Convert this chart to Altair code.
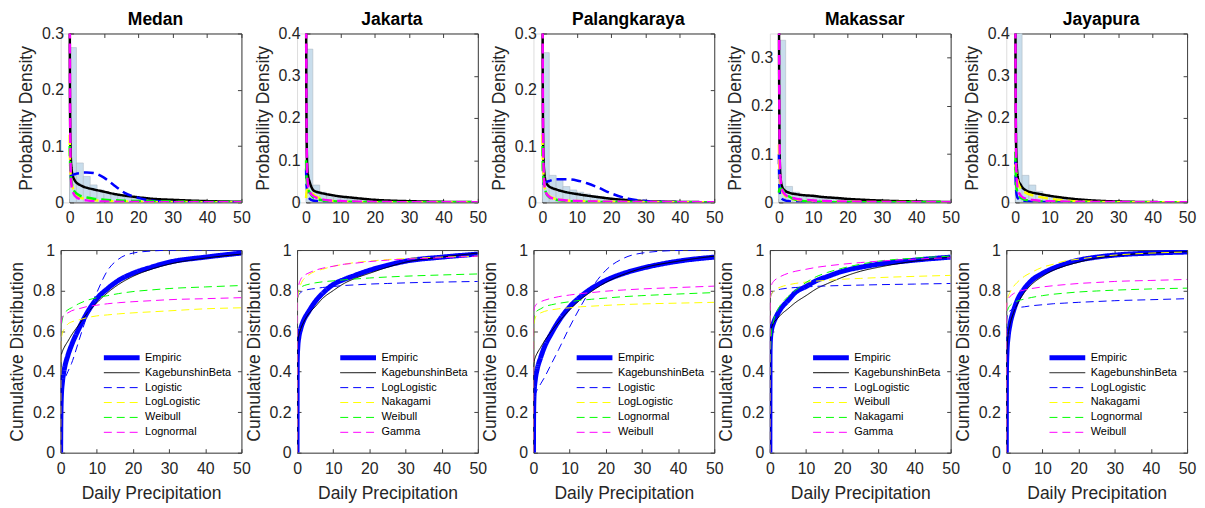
import altair as alt
import pandas as pd

CITIES = ["Medan", "Jakarta", "Palangkaraya", "Makassar", "Jayapura"]
FIT_NAMES = [
    ["Logistic", "LogLogistic", "Weibull", "Lognormal"],
    ["LogLogistic", "Nakagami", "Weibull", "Gamma"],
    ["Logistic", "LogLogistic", "Lognormal", "Weibull"],
    ["LogLogistic", "Weibull", "Nakagami", "Gamma"],
    ["LogLogistic", "Nakagami", "Lognormal", "Weibull"],
]
PDF_YMAX = [0.3, 0.4, 0.3, 0.35, 0.4]
PDF_YTICKS = [[0, 0.1, 0.2, 0.3], [0, 0.1, 0.2, 0.3, 0.4], [0, 0.1, 0.2, 0.3],
              [0, 0.1, 0.2, 0.3], [0, 0.1, 0.2, 0.3, 0.4]]
X_TICKS = [0, 10, 20, 30, 40, 50]
CDF_YTICKS = [0, 0.2, 0.4, 0.6, 0.8, 1]

# ---------------- histograms (bin width 2, starting at 0) ----------------
BIN_WIDTH = 2
HIST_MEDAN = [0.275, 0.070, 0.046, 0.031, 0.022, 0.017, 0.013, 0.011, 0.009, 0.0075, 0.0065, 0.0055,
              0.0045, 0.004, 0.0035, 0.003, 0.0025, 0.002, 0.0018, 0.0015, 0.0013, 0.0011, 0.001, 0.0009, 0.0008]
HIST_JAKARTA = [0.363, 0.041, 0.024, 0.016, 0.012, 0.010, 0.008, 0.007, 0.006, 0.005, 0.0045, 0.004,
                0.0035, 0.003, 0.0025, 0.002, 0.0018, 0.0016, 0.0014, 0.0012, 0.001, 0.0009, 0.0008, 0.0007, 0.0006]
HIST_PALANGKARAYA = [0.266, 0.048, 0.042, 0.028, 0.022, 0.018, 0.015, 0.012, 0.010, 0.0085, 0.007, 0.006,
                     0.005, 0.0042, 0.0035, 0.003, 0.0025, 0.002, 0.0017, 0.0014, 0.0012, 0.001, 0.0009, 0.0008, 0.0007]
HIST_MAKASSAR = [0.336, 0.033, 0.021, 0.015, 0.012, 0.010, 0.009, 0.008, 0.007, 0.006, 0.0052, 0.0045,
                 0.004, 0.0035, 0.003, 0.0026, 0.0022, 0.0019, 0.0016, 0.0014, 0.0012, 0.001, 0.0009, 0.0008, 0.0007]
HIST_JAYAPURA = [0.41, 0.064, 0.041, 0.026, 0.019, 0.015, 0.012, 0.010, 0.008, 0.0065, 0.0055, 0.0045,
                 0.0037, 0.003, 0.0025, 0.002, 0.0017, 0.0014, 0.0012, 0.001, 0.0008, 0.0007, 0.0006, 0.0005, 0.0004]

# ---------------- fitted densities (KagebunshinBeta, then the 4 fits in legend order) ----------------
PDF_X = [0.02, 0.1, 0.3, 0.6, 1, 1.5, 2, 3, 4, 5, 7, 10, 13, 16, 20, 25, 30, 40, 50]

PDF_MEDAN_KB = [0.5, 0.2, 0.09, 0.058, 0.046, 0.039, 0.035, 0.031, 0.028, 0.026, 0.023, 0.019, 0.015, 0.012, 0.009, 0.006, 0.0045, 0.0022, 0.001]
PDF_MEDAN_F1 = [0.046, 0.046, 0.047, 0.048, 0.049, 0.050, 0.051, 0.052, 0.053, 0.053, 0.052, 0.044, 0.030, 0.017, 0.008, 0.0025, 0.0008, 0.0001, 0]
PDF_MEDAN_F2 = [0.12, 0.08, 0.05, 0.035, 0.025, 0.017, 0.013, 0.009, 0.007, 0.0055, 0.004, 0.0027, 0.002, 0.0015, 0.0011, 0.0008, 0.0006, 0.0004, 0.0003]
PDF_MEDAN_F3 = [0.1, 0.08, 0.05, 0.035, 0.025, 0.019, 0.016, 0.012, 0.010, 0.0085, 0.0065, 0.0048, 0.0037, 0.003, 0.0023, 0.0017, 0.0013, 0.0008, 0.0005]
PDF_MEDAN_F4 = [0.6, 0.25, 0.06, 0.028, 0.018, 0.012, 0.009, 0.006, 0.0045, 0.0035, 0.0022, 0.0014, 0.001, 0.0007, 0.0005, 0.0003, 0.0002, 0.0001, 0.0001]

PDF_JAKARTA_KB = [0.6, 0.25, 0.1, 0.063, 0.05, 0.038, 0.03, 0.025, 0.023, 0.021, 0.018, 0.014, 0.0115, 0.009, 0.006, 0.004, 0.0028, 0.0012, 0.0005]
PDF_JAKARTA_F1 = [0.08, 0.05, 0.03, 0.015, 0.009, 0.006, 0.0045, 0.003, 0.0022, 0.0018, 0.0012, 0.0008, 0.0006, 0.0005, 0.0004, 0.0003, 0.0002, 0.0001, 0.0001]
PDF_JAKARTA_F2 = [0.01, 0.02, 0.03, 0.03, 0.028, 0.024, 0.02, 0.014, 0.01, 0.007, 0.004, 0.002, 0.001, 0.0005, 0.0002, 0.0001, 0, 0, 0]
PDF_JAKARTA_F3 = [0.1, 0.07, 0.045, 0.032, 0.025, 0.018, 0.013, 0.008, 0.006, 0.0045, 0.003, 0.002, 0.0014, 0.001, 0.0008, 0.0006, 0.0004, 0.0003, 0.0002]
PDF_JAKARTA_F4 = [0.8, 0.3, 0.08, 0.04, 0.027, 0.02, 0.016, 0.011, 0.008, 0.0065, 0.0045, 0.003, 0.002, 0.0015, 0.001, 0.0006, 0.0004, 0.0002, 0.0001]

PDF_PALANGKARAYA_KB = [0.5, 0.2, 0.08, 0.05, 0.036, 0.031, 0.028, 0.025, 0.023, 0.021, 0.018, 0.0148, 0.012, 0.0095, 0.0065, 0.004, 0.0022, 0.0008, 0.0003]
PDF_PALANGKARAYA_F1 = [0.033, 0.033, 0.034, 0.035, 0.036, 0.037, 0.038, 0.040, 0.041, 0.041, 0.041, 0.039, 0.034, 0.027, 0.016, 0.0065, 0.0025, 0.0003, 0]
PDF_PALANGKARAYA_F2 = [0.12, 0.08, 0.05, 0.03, 0.02, 0.014, 0.011, 0.008, 0.006, 0.005, 0.0035, 0.0025, 0.0018, 0.0014, 0.001, 0.0008, 0.0006, 0.0004, 0.0003]
PDF_PALANGKARAYA_F3 = [0.1, 0.06, 0.042, 0.03, 0.018, 0.012, 0.009, 0.006, 0.0045, 0.0035, 0.0025, 0.0017, 0.0012, 0.0009, 0.0007, 0.0005, 0.0004, 0.0002, 0.0001]
PDF_PALANGKARAYA_F4 = [0.6, 0.25, 0.07, 0.03, 0.018, 0.013, 0.01, 0.007, 0.0055, 0.0045, 0.0033, 0.0024, 0.0018, 0.0014, 0.0011, 0.0008, 0.0006, 0.0004, 0.0003]

PDF_MAKASSAR_KB = [0.6, 0.25, 0.08, 0.045, 0.032, 0.026, 0.023, 0.02, 0.018, 0.017, 0.015, 0.0135, 0.011, 0.0095, 0.0072, 0.0052, 0.0037, 0.0018, 0.0008]
PDF_MAKASSAR_F1 = [0.1, 0.05, 0.02, 0.012, 0.007, 0.005, 0.0035, 0.0025, 0.0018, 0.0014, 0.001, 0.0007, 0.0005, 0.0004, 0.0003, 0.0002, 0.0002, 0.0001, 0.0001]
PDF_MAKASSAR_F2 = [0.12, 0.08, 0.05, 0.035, 0.024, 0.017, 0.013, 0.009, 0.007, 0.0055, 0.004, 0.003, 0.0022, 0.0017, 0.0013, 0.001, 0.0008, 0.0005, 0.0003]
PDF_MAKASSAR_F3 = [0.02, 0.025, 0.028, 0.028, 0.026, 0.022, 0.018, 0.012, 0.008, 0.0055, 0.003, 0.0012, 0.0005, 0.0002, 0.0001, 0, 0, 0, 0]
PDF_MAKASSAR_F4 = [0.8, 0.3, 0.08, 0.04, 0.025, 0.019, 0.015, 0.011, 0.009, 0.0075, 0.0055, 0.004, 0.003, 0.0022, 0.0016, 0.001, 0.0007, 0.0003, 0.0001]

PDF_JAYAPURA_KB = [0.8, 0.3, 0.12, 0.07, 0.05, 0.043, 0.036, 0.029, 0.025, 0.023, 0.02, 0.0156, 0.012, 0.009, 0.006, 0.0035, 0.002, 0.0007, 0.0002]
PDF_JAYAPURA_F1 = [0.1, 0.06, 0.025, 0.012, 0.008, 0.005, 0.004, 0.0028, 0.002, 0.0016, 0.0011, 0.0008, 0.0006, 0.0005, 0.0004, 0.0003, 0.0002, 0.0001, 0.0001]
PDF_JAYAPURA_F2 = [0.09, 0.08, 0.07, 0.055, 0.042, 0.034, 0.029, 0.023, 0.019, 0.017, 0.013, 0.0085, 0.0055, 0.0035, 0.0018, 0.0008, 0.0003, 0.0001, 0]
PDF_JAYAPURA_F3 = [0.12, 0.08, 0.04, 0.025, 0.018, 0.012, 0.009, 0.006, 0.0045, 0.0035, 0.0025, 0.0017, 0.0012, 0.0009, 0.0007, 0.0005, 0.0004, 0.0002, 0.0001]
PDF_JAYAPURA_F4 = [0.8, 0.3, 0.08, 0.04, 0.025, 0.017, 0.013, 0.009, 0.007, 0.0055, 0.004, 0.0028, 0.002, 0.0016, 0.0012, 0.0009, 0.0007, 0.0004, 0.0003]

# ---------------- cumulative distributions (Empiric, KagebunshinBeta, then the 4 fits) ----------------
CDF_X = [0, 0.05, 0.2, 0.5, 1, 2, 3, 5, 7, 10, 13, 16, 20, 25, 30, 40, 50]

CDF_MEDAN_EMP = [0, 0.15, 0.28, 0.35, 0.41, 0.48, 0.53, 0.61, 0.68, 0.76, 0.81, 0.85, 0.885, 0.915, 0.94, 0.965, 0.985]
CDF_MEDAN_KB = [0, 0.45, 0.48, 0.50, 0.52, 0.55, 0.58, 0.63, 0.68, 0.74, 0.79, 0.83, 0.87, 0.905, 0.93, 0.96, 0.98]
CDF_MEDAN_F1 = [0.32, 0.32, 0.33, 0.34, 0.36, 0.40, 0.44, 0.55, 0.66, 0.79, 0.90, 0.955, 0.985, 0.995, 0.999, 1.0, 1.0]
CDF_MEDAN_F2 = [0, 0.52, 0.56, 0.59, 0.61, 0.635, 0.645, 0.655, 0.665, 0.675, 0.68, 0.685, 0.69, 0.695, 0.70, 0.71, 0.715]
CDF_MEDAN_F3 = [0, 0.55, 0.62, 0.66, 0.685, 0.705, 0.715, 0.735, 0.75, 0.765, 0.775, 0.785, 0.795, 0.803, 0.81, 0.818, 0.825]
CDF_MEDAN_F4 = [0, 0.60, 0.65, 0.67, 0.68, 0.69, 0.70, 0.71, 0.72, 0.728, 0.735, 0.74, 0.745, 0.75, 0.755, 0.76, 0.765]

CDF_JAKARTA_EMP = [0, 0.45, 0.52, 0.57, 0.61, 0.66, 0.69, 0.745, 0.785, 0.83, 0.855, 0.875, 0.90, 0.925, 0.945, 0.965, 0.98]
CDF_JAKARTA_KB = [0, 0.50, 0.55, 0.58, 0.61, 0.65, 0.68, 0.72, 0.76, 0.80, 0.835, 0.86, 0.885, 0.915, 0.94, 0.965, 0.985]
CDF_JAKARTA_F1 = [0, 0.72, 0.76, 0.78, 0.79, 0.80, 0.805, 0.81, 0.815, 0.82, 0.825, 0.828, 0.832, 0.835, 0.838, 0.842, 0.845]
CDF_JAKARTA_F2 = [0, 0.70, 0.76, 0.80, 0.83, 0.86, 0.875, 0.895, 0.905, 0.92, 0.93, 0.938, 0.945, 0.953, 0.958, 0.965, 0.97]
CDF_JAKARTA_F3 = [0, 0.76, 0.79, 0.805, 0.815, 0.825, 0.83, 0.838, 0.843, 0.848, 0.853, 0.857, 0.862, 0.867, 0.871, 0.877, 0.882]
CDF_JAKARTA_F4 = [0, 0.76, 0.80, 0.83, 0.855, 0.875, 0.885, 0.90, 0.91, 0.92, 0.93, 0.935, 0.943, 0.95, 0.955, 0.962, 0.97]

CDF_PALANGKARAYA_EMP = [0, 0.20, 0.30, 0.36, 0.41, 0.47, 0.52, 0.59, 0.65, 0.72, 0.77, 0.81, 0.85, 0.885, 0.91, 0.945, 0.965]
CDF_PALANGKARAYA_KB = [0, 0.42, 0.45, 0.47, 0.49, 0.52, 0.55, 0.60, 0.645, 0.705, 0.755, 0.795, 0.84, 0.88, 0.91, 0.945, 0.97]
CDF_PALANGKARAYA_F1 = [0.28, 0.28, 0.285, 0.29, 0.31, 0.34, 0.37, 0.44, 0.51, 0.62, 0.72, 0.81, 0.90, 0.96, 0.985, 0.998, 1.0]
CDF_PALANGKARAYA_F2 = [0, 0.60, 0.64, 0.665, 0.68, 0.69, 0.697, 0.705, 0.71, 0.715, 0.72, 0.723, 0.727, 0.731, 0.734, 0.738, 0.742]
CDF_PALANGKARAYA_F3 = [0, 0.62, 0.67, 0.69, 0.70, 0.71, 0.72, 0.73, 0.737, 0.745, 0.752, 0.757, 0.763, 0.77, 0.775, 0.783, 0.79]
CDF_PALANGKARAYA_F4 = [0, 0.68, 0.71, 0.725, 0.735, 0.745, 0.752, 0.762, 0.77, 0.778, 0.785, 0.79, 0.797, 0.803, 0.808, 0.815, 0.822]

CDF_MAKASSAR_EMP = [0, 0.50, 0.57, 0.61, 0.64, 0.68, 0.71, 0.75, 0.79, 0.82, 0.85, 0.87, 0.895, 0.915, 0.93, 0.95, 0.965]
CDF_MAKASSAR_KB = [0, 0.55, 0.60, 0.62, 0.64, 0.66, 0.68, 0.71, 0.74, 0.775, 0.81, 0.835, 0.865, 0.895, 0.915, 0.945, 0.965]
CDF_MAKASSAR_F1 = [0, 0.74, 0.77, 0.785, 0.795, 0.803, 0.807, 0.812, 0.815, 0.818, 0.821, 0.823, 0.825, 0.827, 0.829, 0.832, 0.835]
CDF_MAKASSAR_F2 = [0, 0.74, 0.77, 0.785, 0.795, 0.81, 0.818, 0.828, 0.835, 0.842, 0.847, 0.851, 0.856, 0.86, 0.864, 0.87, 0.875]
CDF_MAKASSAR_F3 = [0, 0.30, 0.50, 0.60, 0.65, 0.70, 0.73, 0.77, 0.80, 0.84, 0.87, 0.89, 0.91, 0.93, 0.945, 0.96, 0.97]
CDF_MAKASSAR_F4 = [0, 0.78, 0.81, 0.83, 0.845, 0.86, 0.87, 0.885, 0.895, 0.905, 0.915, 0.922, 0.93, 0.938, 0.945, 0.955, 0.962]

CDF_JAYAPURA_EMP = [0, 0.40, 0.50, 0.57, 0.63, 0.70, 0.75, 0.81, 0.85, 0.885, 0.91, 0.93, 0.95, 0.965, 0.975, 0.985, 0.99]
CDF_JAYAPURA_KB = [0, 0.45, 0.52, 0.58, 0.63, 0.69, 0.73, 0.79, 0.83, 0.87, 0.90, 0.92, 0.94, 0.96, 0.972, 0.985, 0.992]
CDF_JAYAPURA_F1 = [0, 0.62, 0.67, 0.69, 0.70, 0.71, 0.715, 0.72, 0.725, 0.73, 0.735, 0.738, 0.742, 0.746, 0.75, 0.755, 0.76]
CDF_JAYAPURA_F2 = [0, 0.72, 0.75, 0.77, 0.79, 0.82, 0.84, 0.87, 0.89, 0.915, 0.93, 0.945, 0.955, 0.967, 0.975, 0.985, 0.99]
CDF_JAYAPURA_F3 = [0, 0.65, 0.69, 0.71, 0.725, 0.74, 0.748, 0.758, 0.766, 0.775, 0.782, 0.787, 0.793, 0.798, 0.802, 0.808, 0.812]
CDF_JAYAPURA_F4 = [0, 0.70, 0.74, 0.76, 0.77, 0.785, 0.793, 0.803, 0.81, 0.818, 0.824, 0.829, 0.835, 0.84, 0.845, 0.85, 0.855]

HISTS = [HIST_MEDAN, HIST_JAKARTA, HIST_PALANGKARAYA, HIST_MAKASSAR, HIST_JAYAPURA]
PDFS = [
    [PDF_MEDAN_KB, PDF_MEDAN_F1, PDF_MEDAN_F2, PDF_MEDAN_F3, PDF_MEDAN_F4],
    [PDF_JAKARTA_KB, PDF_JAKARTA_F1, PDF_JAKARTA_F2, PDF_JAKARTA_F3, PDF_JAKARTA_F4],
    [PDF_PALANGKARAYA_KB, PDF_PALANGKARAYA_F1, PDF_PALANGKARAYA_F2, PDF_PALANGKARAYA_F3, PDF_PALANGKARAYA_F4],
    [PDF_MAKASSAR_KB, PDF_MAKASSAR_F1, PDF_MAKASSAR_F2, PDF_MAKASSAR_F3, PDF_MAKASSAR_F4],
    [PDF_JAYAPURA_KB, PDF_JAYAPURA_F1, PDF_JAYAPURA_F2, PDF_JAYAPURA_F3, PDF_JAYAPURA_F4],
]
CDFS = [
    [CDF_MEDAN_EMP, CDF_MEDAN_KB, CDF_MEDAN_F1, CDF_MEDAN_F2, CDF_MEDAN_F3, CDF_MEDAN_F4],
    [CDF_JAKARTA_EMP, CDF_JAKARTA_KB, CDF_JAKARTA_F1, CDF_JAKARTA_F2, CDF_JAKARTA_F3, CDF_JAKARTA_F4],
    [CDF_PALANGKARAYA_EMP, CDF_PALANGKARAYA_KB, CDF_PALANGKARAYA_F1, CDF_PALANGKARAYA_F2, CDF_PALANGKARAYA_F3, CDF_PALANGKARAYA_F4],
    [CDF_MAKASSAR_EMP, CDF_MAKASSAR_KB, CDF_MAKASSAR_F1, CDF_MAKASSAR_F2, CDF_MAKASSAR_F3, CDF_MAKASSAR_F4],
    [CDF_JAYAPURA_EMP, CDF_JAYAPURA_KB, CDF_JAYAPURA_F1, CDF_JAYAPURA_F2, CDF_JAYAPURA_F3, CDF_JAYAPURA_F4],
]

# ---------------- styles ----------------
FONT = "Liberation Sans"
TXT = "#262626"
AXC = "#404040"
CDF_COLORS = ["#0000ff", "#000000", "#0000ff", "#ffff00", "#00ff00", "#ff00ff"]
CDF_DASHES = [[1, 0], [1, 0], [8, 5], [8, 5], [8, 5], [8, 5]]
CDF_WIDTHS = [5, 1, 1, 1, 1, 1]
PDF_COLORS = ["#000000", "#0000ff", "#ffff00", "#00ff00", "#ff00ff"]
PDF_DASHES = [[1, 0], [10, 5], [10, 5], [10, 5], [10, 5]]

PANEL_W = 182
PDF_H = 170
CDF_H = 204
PDF_SHIFT = 9


def ax(**kw):
    base = dict(labelFont=FONT, labelFontSize=16, labelColor=TXT, titleFont=FONT,
                titleFontSize=17.6, titleColor=TXT, titleFontWeight="normal",
                domainColor=AXC, domainWidth=1, tickColor=AXC, tickWidth=1,
                tickSize={"expr": "-4"}, labelFlush=False, labelOverlap=False, grid=False)
    base.update(kw)
    return alt.Axis(**base)


def pdf_panel(i):
    names = ["KagebunshinBeta"] + FIT_NAMES[i]
    rows = []
    for name, ys in zip(names, PDFS[i]):
        for xv, yv in zip(PDF_X, ys):
            rows.append({"x": xv, "y": yv, "name": name})
    df = pd.DataFrame(rows)
    h = HISTS[i]
    hist = pd.DataFrame({"x0": [k * BIN_WIDTH for k in range(len(h))],
                         "x1": [(k + 1) * BIN_WIDTH for k in range(len(h))],
                         "h": h})
    xs = alt.Scale(domain=[0, 50], range=[PDF_SHIFT, PANEL_W], nice=False)
    ys = alt.Scale(domain=[0, PDF_YMAX[i]], nice=False)
    bars = alt.Chart(hist).mark_rect(fill="#c8ddec", stroke="#b2bcc6", strokeWidth=0.6, clip=True).encode(
        x=alt.X("x0:Q", scale=xs, axis=ax(values=X_TICKS, title=None, labelPadding=11)),
        x2="x1",
        y=alt.Y("h:Q", scale=ys, axis=ax(values=PDF_YTICKS[i], format="~g", title="Probability Density",
                                         offset=-PDF_SHIFT, labelPadding=10, titlePadding=6)),
        y2=alt.datum(0),
    )
    lines = alt.Chart(df).mark_line(clip=True, interpolate="monotone", strokeWidth=2.5).encode(
        x=alt.X("x:Q", scale=xs, axis=None),
        y=alt.Y("y:Q", scale=ys, axis=None),
        color=alt.Color("name:N", scale=alt.Scale(domain=names, range=PDF_COLORS), legend=None),
        strokeDash=alt.StrokeDash("name:N", scale=alt.Scale(domain=names, range=PDF_DASHES), legend=None),
    )
    tx = ax(orient="top", labels=False, title=None, values=X_TICKS)
    ry = ax(orient="right", labels=False, title=None, values=PDF_YTICKS[i])
    frame = alt.Chart(hist).mark_rect(opacity=0).encode(
        x=alt.X("x0:Q", scale=xs, axis=tx), x2="x1",
        y=alt.Y("h:Q", scale=ys, axis=ry), y2=alt.datum(0),
    )
    # the top tick label pokes above the frame only when the last tick sits on the top edge
    title_offset = -17 if PDF_YTICKS[i][-1] == PDF_YMAX[i] else -10
    return alt.layer(bars, lines, frame).resolve_axis(x="independent", y="independent").properties(
        width=PANEL_W, height=PDF_H,
        title=alt.Title(CITIES[i], font=FONT, fontSize=17.6, fontWeight="bold", color="#000",
                        anchor="middle", frame="group", baseline="alphabetic",
                        dx=PDF_SHIFT / 2, offset=title_offset),
    )


def cdf_panel(i):
    names = ["Empiric", "KagebunshinBeta"] + FIT_NAMES[i]
    rows = []
    for name, ys in zip(names, CDFS[i]):
        for xv, yv in zip(CDF_X, ys):
            rows.append({"x": xv, "y": yv, "name": name})
    df = pd.DataFrame(rows)
    xs = alt.Scale(domain=[0, 50], nice=False)
    ys = alt.Scale(domain=[0, 1], nice=False)
    leg = alt.Legend(title=None, orient="none", legendX=41, legendY=101, direction="vertical",
                     symbolType="stroke", symbolSize=1296, clipHeight=15, rowPadding=0,
                     labelOffset=3, labelFont=FONT, labelFontSize=11, labelColor="#000",
                     padding=0, labelLimit=300)
    lines = alt.Chart(df).mark_line(clip=True, interpolate="monotone").encode(
        x=alt.X("x:Q", scale=xs, axis=ax(values=X_TICKS, title="Daily Precipitation",
                                         labelPadding=12, titlePadding=8)),
        y=alt.Y("y:Q", scale=ys, axis=ax(values=CDF_YTICKS, format="~g", title="Cumulative Distribution",
                                         labelPadding=10, titlePadding=6)),
        color=alt.Color("name:N", scale=alt.Scale(domain=names, range=CDF_COLORS), legend=leg),
        strokeDash=alt.StrokeDash("name:N", scale=alt.Scale(domain=names, range=CDF_DASHES), legend=leg),
        strokeWidth=alt.StrokeWidth("name:N", scale=alt.Scale(type="ordinal", domain=names, range=CDF_WIDTHS),
                                    legend=leg),
    )
    tx = ax(orient="top", labels=False, title=None, values=X_TICKS)
    ry = ax(orient="right", labels=False, title=None, values=CDF_YTICKS)
    frame = alt.Chart(df).mark_point(opacity=0).encode(
        x=alt.X("x:Q", scale=xs, axis=tx),
        y=alt.Y("y:Q", scale=ys, axis=ry),
    )
    return alt.layer(lines, frame).resolve_axis(x="independent", y="independent").properties(
        width=PANEL_W, height=CDF_H)


charts = [pdf_panel(i) for i in range(5)] + [cdf_panel(i) for i in range(5)]
chart = alt.concat(*charts, columns=5, spacing={"row": 48, "column": 56}, bounds="flush").resolve_scale(
    color="independent", strokeDash="independent", strokeWidth="independent"
).resolve_legend(
    color="independent", strokeDash="independent", strokeWidth="independent"
).properties(padding=0).configure_view(
    stroke=None).configure(font=FONT, background="white")

chart.save("out.html", embed_options={"renderer": "svg", "actions": False})
